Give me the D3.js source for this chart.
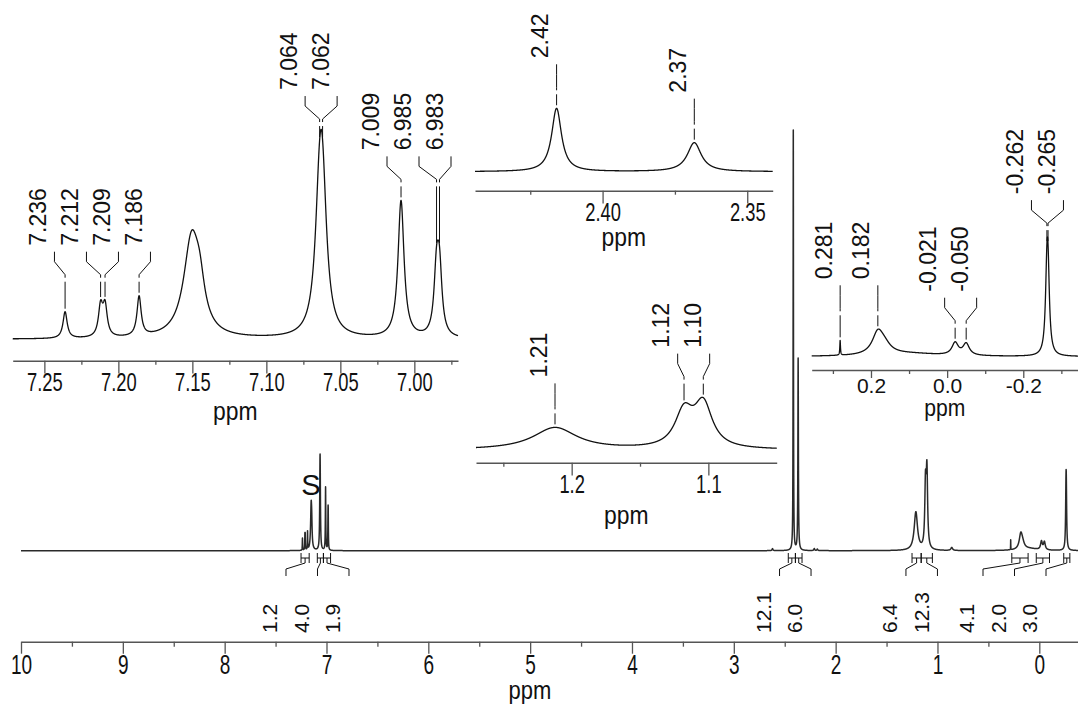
<!DOCTYPE html>
<html>
<head>
<meta charset="utf-8">
<script src="https://cdn.jsdelivr.net/npm/d3@7"></script>
<style>
  body { margin: 0; background: #fff; }
  svg { display: block; font-family: "Liberation Sans", Arial, sans-serif; }
</style>
</head>
<body>
<div id="chart"></div>
<script>
// peak list: position (ppm), height (px in the full spectrum), line width (ppm)
const peakPpm    = [7.236, 7.212, 7.209, 7.186, 7.1505, 7.145, 7.064, 7.062, 7.009, 6.985, 6.983, 2.62, 2.4159, 2.3683, 2.21, 2.18, 1.2122, 1.1178, 1.1037, 0.86, 0.281, 0.182, 0.165, 0.10, -0.021, -0.050, -0.262, -0.265];
const peakHeight = [12.2, 13.8, 13.8, 18.2, 45, 13.8, 52, 52, 63, 28, 28, 2, 420, 192, 2, 1.5, 38.2, 60.8, 74.4, 3, 10, 14.2, 5.4, 2, 8.3, 7.9, 45, 45];
const peakWidth  = [0.0034, 0.0035, 0.0035, 0.0034, 0.013, 0.008, 0.007, 0.007, 0.0049, 0.004, 0.004, 0.01, 0.0041, 0.0058, 0.01, 0.01, 0.039, 0.016, 0.016, 0.02, 0.002, 0.035, 0.04, 0.2, 0.02, 0.02, 0.009, 0.009];

// integrals
const integralFrom  = [7.25, 7.09, 7.03, 2.465, 2.395, 1.25, 1.16, 0.27, 0.03, -0.24];
const integralTo    = [7.17, 7.03, 6.96, 2.395, 2.33, 1.16, 1.05, 0.11, -0.10, -0.30];
const integralValue = ["1.2", "4.0", "1.9", "12.1", "6.0", "6.4", "12.3", "4.1", "2.0", "3.0"];

// peak picking labels of the insets
const inset1Labels = ["7.236", "7.212", "7.209", "7.186", "7.064", "7.062", "7.009", "6.985", "6.983"];
const inset1LabelPpm = [7.236, 7.212, 7.209, 7.186, 7.064, 7.062, 7.009, 6.985, 6.983];
const inset1LabelGroup = [0, 0, 0, 0, 1, 1, 2, 2, 2];
const inset2Labels = ["2.42", "2.37"];
const inset2LabelPpm = [2.4159, 2.3683];
const inset2LabelGroup = [0, 1];
const inset3Labels = ["1.21", "1.12", "1.10"];
const inset3LabelPpm = [1.2122, 1.1178, 1.1037];
const inset3LabelGroup = [0, 1, 1];
const inset4Labels = ["0.281", "0.182", "-0.021", "-0.050", "-0.262", "-0.265"];
const inset4LabelPpm = [0.281, 0.182, -0.021, -0.050, -0.262, -0.265];
const inset4LabelGroup = [0, 0, 1, 1, 2, 2];

// axis ticks
const mainTicks = [10, 9, 8, 7, 6, 5, 4, 3, 2, 1, 0];
const mainMinor = [9.5, 8.5, 7.5, 6.5, 5.5, 4.5, 3.5, 2.5, 1.5, 0.5];
const inset1Ticks = [7.25, 7.20, 7.15, 7.10, 7.05, 7.00];
const inset1Minor = [7.225, 7.175, 7.125, 7.075, 7.025, 6.975];
const inset2Ticks = [2.40, 2.35];
const inset2Minor = [2.425, 2.375];
const inset3Ticks = [1.2, 1.1];
const inset3Minor = [1.25, 1.15];
const inset4Ticks = [0.2, 0.0, -0.2];
const inset4Minor = [0.3, 0.1, -0.1, -0.3];

const width = 1078, height = 709;

const svg = d3.select("#chart")
    .append("svg")
    .attr("width", width)
    .attr("height", height);

// sum of lorentzian lines
const spec = ppm => {
    let s = 0;
    for (let i = 0; i < peakPpm.length; i++) {
        const u = (ppm - peakPpm[i]) / (peakWidth[i] / 2);
        s += peakHeight[i] / (1 + u * u);
    }
    return s;
};

// spread label slots so they keep a minimum spacing
function placeSlots(desired, spacing, lo, hi) {
    let clusters = desired.map((d, i) => ({idx: [i], mean: d}));
    const pos = c => c.idx.map((_, j) => c.mean + (j - (c.idx.length - 1) / 2) * spacing);
    let changed = true;
    while (changed) {
        changed = false;
        for (let i = 0; i < clusters.length - 1; i++) {
            const a = pos(clusters[i]), b = pos(clusters[i + 1]);
            if (b[0] - a[a.length - 1] < spacing) {
                const idx = clusters[i].idx.concat(clusters[i + 1].idx);
                clusters.splice(i, 2, {idx: idx, mean: d3.mean(idx, k => desired[k])});
                changed = true;
                break;
            }
        }
    }
    const out = [];
    clusters.forEach(c => {
        let p = pos(c);
        const sh = Math.min(0, hi - p[p.length - 1]) + Math.max(0, lo - p[0]);
        c.idx.forEach((k, j) => out[k] = p[j] + sh);
    });
    return out;
}

const fix = n => d => d.toFixed(n); // keeps a plain hyphen for negatives

const panels = [
    {dom: [10, -0.38], range: [21, 1078], base: 550.7, k: 1, axisY: 641.7,
     ticks: mainTicks, minor: mainMinor, fmt: d => d, font: 28, sx: 0.68, major: 12, minorLen: 5,
     ppmX: 530, ppmDy: 57, ppmFont: 25, n: 42000, sw: 1.5, color: "#2a2a2a"},
    {dom: [7.2714, 6.9705], range: [12.7, 458], base: 339.3, k: 2.174, axisY: 360.7,
     ticks: inset1Ticks, minor: inset1Minor, fmt: fix(2), font: 25.5, sx: 0.72, major: 12.7, minorLen: 4,
     ppmDy: 59, ppmFont: 26, n: 4000, sw: 1.3, color: "#111",
     labels: inset1Labels, labelPpm: inset1LabelPpm, labelGroup: inset1LabelGroup},
    {dom: [2.4441, 2.3412], range: [475, 772.7], base: 171.7, k: 0.1507, axisY: 190.7,
     ticks: inset2Ticks, minor: inset2Minor, fmt: fix(2), font: 25.5, sx: 0.72, major: 12.7, minorLen: 4,
     ppmDy: 55, ppmFont: 26, n: 3000, sw: 1.3, color: "#111",
     labels: inset2Labels, labelPpm: inset2LabelPpm, labelGroup: inset2LabelGroup},
    {dom: [1.27, 1.05], range: [476, 776.7], base: 450, k: 0.579, axisY: 462.7,
     ticks: inset3Ticks, minor: inset3Minor, fmt: fix(1), font: 25.5, sx: 0.72, major: 12.7, minorLen: 4,
     ppmDy: 61, ppmFont: 26, n: 3000, sw: 1.3, color: "#111",
     labels: inset3Labels, labelPpm: inset3LabelPpm, labelGroup: inset3LabelGroup},
    {dom: [0.3557, -0.3437], range: [811.7, 1078], base: 356.7, k: 1.474, axisY: 370,
     ticks: inset4Ticks, minor: inset4Minor, fmt: fix(1), font: 21, sx: 1, major: 8, minorLen: 4,
     ppmDy: 46, ppmFont: 24, n: 4000, sw: 1.3, color: "#111",
     labels: inset4Labels, labelPpm: inset4LabelPpm, labelGroup: inset4LabelGroup}
];

const line = d3.line();

panels.forEach(p => {
    const x = d3.scaleLinear().domain(p.dom).range(p.range);
    const y = d3.scaleLinear().domain([0, 1]).range([p.base, p.base - p.k]);
    const g = svg.append("g");

    // spectrum
    const pts = d3.range(p.n + 1).map(i => p.dom[0] + (p.dom[1] - p.dom[0]) * i / p.n);
    g.append("path")
        .datum(pts)
        .attr("fill", "none")
        .attr("stroke", p.color)
        .attr("stroke-width", p.sw)
        .attr("stroke-linejoin", "round")
        .attr("d", d3.line().x(d => x(d)).y(d => y(spec(d))));

    // axis
    const ax = g.append("g")
        .attr("transform", `translate(0,${p.axisY})`)
        .call(d3.axisBottom(x).tickValues(p.ticks).tickSize(p.major).tickSizeOuter(0).tickPadding(0).tickFormat(p.fmt));
    ax.select(".domain").attr("stroke", "#555").attr("stroke-width", 1.5);
    ax.selectAll(".tick line").attr("stroke", "#555").attr("stroke-width", 1.3);
    ax.selectAll(".tick text")
        .attr("fill", "#111")
        .attr("font-size", p.font)
        .attr("font-family", "'Liberation Sans', Arial, sans-serif")
        .attr("transform", `scale(${p.sx},1)`);
    const mx = g.append("g")
        .attr("transform", `translate(0,${p.axisY})`)
        .call(d3.axisBottom(x).tickValues(p.minor).tickSize(p.minorLen).tickSizeOuter(0).tickFormat(""));
    mx.select(".domain").remove();
    mx.selectAll(".tick line").attr("stroke", "#555").attr("stroke-width", 1.3);

    g.append("text")
        .attr("transform", `translate(${p.ppmX || (p.range[0] + p.range[1]) / 2},${p.axisY + p.ppmDy}) scale(0.88,1)`)
        .attr("text-anchor", "middle")
        .attr("font-size", p.ppmFont)
        .attr("fill", "#111")
        .text("ppm");

    // peak labels
    if (!p.labels) return;
    d3.groups(d3.range(p.labels.length), i => p.labelGroup[i]).forEach(([, idx]) => {
        const px = idx.map(i => x(p.labelPpm[i]));
        const slots = placeSlots(px, 32, p.range[0] + 7, p.range[1] - 7);
        const tops = idx.map(i => y(spec(p.labelPpm[i])));
        const lb = d3.min(tops) - 50;
        idx.forEach((i, j) => {
            g.append("text")
                .attr("transform", `translate(${slots[j] - 16.5},${lb}) rotate(-90)`)
                .attr("dy", "0.35em")
                .attr("font-size", 23)
                .attr("fill", "#111")
                .text(p.labels[i]);
            g.append("path")
                .attr("fill", "none")
                .attr("stroke", "#111")
                .attr("stroke-width", 1)
                .attr("d", line([[slots[j], lb + 6], [slots[j], lb + 16], [px[j], lb + 29], [px[j], lb + 32]]));
            if (tops[j] - 3 - (lb + 36) > 2) {
                g.append("line")
                    .attr("x1", px[j]).attr("x2", px[j])
                    .attr("y1", lb + 36).attr("y2", tops[j] - 3)
                    .attr("stroke", "#111")
                    .attr("stroke-width", 1);
            }
        });
    });
});

// integrals under the full spectrum
const xm = d3.scaleLinear().domain(panels[0].dom).range(panels[0].range);
const mids = integralFrom.map((d, i) => xm((d + integralTo[i]) / 2));
const islots = placeSlots(mids, 31.5, 0, 1046);
const ig = svg.append("g").attr("stroke", "#111").attr("stroke-width", 1).attr("fill", "none");
integralValue.forEach((v, i) => {
    const a = xm(integralFrom[i]), b = xm(integralTo[i]);
    ig.append("path").attr("d", line([[a, 553], [a, 563]]) + line([[b, 553], [b, 563]]) + line([[a, 558], [b, 558]]));
    ig.append("path").attr("d", line([[islots[i], 576], [islots[i], 569], [mids[i], 563], [mids[i], 558]]));
    svg.append("text")
        .attr("transform", `translate(${islots[i] - 16},633) rotate(-90)`)
        .attr("dy", "0.35em")
        .attr("font-size", 21)
        .attr("fill", "#111")
        .text(v);
});

// solvent mark
svg.append("text")
    .attr("x", 311)
    .attr("y", 495)
    .attr("text-anchor", "middle")
    .attr("font-size", 29)
    .attr("fill", "#111")
    .text("S");
</script>
</body>
</html>
